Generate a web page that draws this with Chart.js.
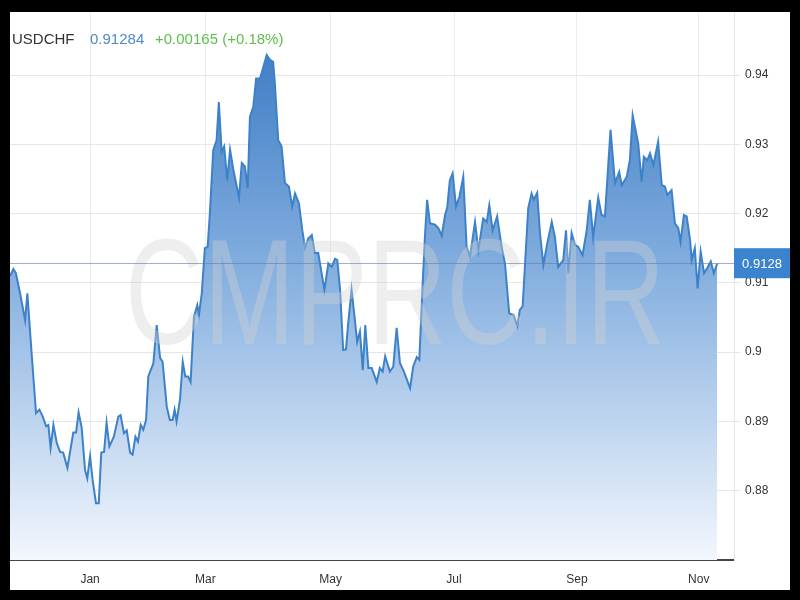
<!DOCTYPE html>
<html><head><meta charset="utf-8">
<script src="https://cdn.jsdelivr.net/npm/chart.js@4.4.1/dist/chart.umd.min.js"></script>
<style>
html,body{margin:0;padding:0;background:#000;width:800px;height:600px;overflow:hidden}
#box{position:absolute;left:10px;top:12px;width:780px;height:578px;background:#fff}
canvas{display:block}
</style></head><body>
<div id="box"><canvas id="c" width="780" height="578"></canvas></div>
<script>
const symbol = 'USDCHF';
const lastPriceText = '0.91284';
const changeText = '+0.00165 (+0.18%)';
const lastValue = 0.91284;
const lastLabel = '0.9128';
const watermark = 'CMPRC.IR';

// trading-day index
const dayIndex = [0,1.2,2.1,3.6,5.4,6.2,7.8,9.3,10.5,11.7,12.9,13.7,14.5,15.5,16.7,17.9,19.0,20.5,22.6,23.6,24.5,25.6,26.8,27.6,28.6,29.5,30.7,31.7,32.6,33.6,34.5,35.5,37.1,38.7,39.5,40.7,41.7,42.9,43.8,44.8,45.7,46.7,47.6,48.6,49.4,51.2,52.4,53.6,54.5,56.0,57.1,58.1,58.8,59.5,60.7,61.7,62.6,63.6,64.5,65.7,66.9,67.5,68.5,69.6,70.6,71.4,72.6,73.8,74.6,75.6,76.5,77.6,78.6,79.8,81.8,82.8,83.9,84.9,85.7,86.9,87.9,89.3,90.5,91.7,92.9,94.0,94.6,95.8,97.0,98.2,99.6,100.8,101.8,103.2,104.4,105.4,106.5,107.8,108.9,110.1,111.3,112.3,113.7,114.9,116.1,116.9,117.9,119.0,120.0,120.8,122.0,123.2,124.0,125.0,126.0,126.9,128.0,129.2,131.0,132.1,133.1,134.0,135.7,136.9,138.1,139.3,140.7,142.9,144.0,145.3,146.2,147.4,148.2,149.0,150.0,151.8,153.0,154.2,155.4,156.2,157.1,158.1,159.3,160.5,161.9,163.1,164.3,166.1,167.3,169.0,170.3,171.2,172.4,174.0,175.6,176.8,178.3,179.8,181.2,182.1,183.1,185.1,186.3,187.1,188.3,189.3,190.5,191.9,193.5,194.6,195.8,197.6,198.6,199.4,200.6,201.8,203.0,204.5,206.0,207.1,208.3,210.1,211.3,212.5,214.5,216.1,217.6,218.5,220.3,221.4,222.4,224.4,225.6,226.4,227.6,228.6,229.8,231.5,232.8,233.9,234.8,236.3,237.5,238.7,239.5,240.7,241.7,242.9,243.5,244.6,245.6,246.7,247.9,249.0,250.3,251.4,252.6];

const closeValues = [0.9110,0.9120,0.9114,0.9085,0.9046,0.9085,0.8994,0.8912,0.8917,0.8907,0.8893,0.8895,0.8862,0.8895,0.8869,0.8856,0.8855,0.8833,0.8884,0.8884,0.8913,0.8891,0.8830,0.8818,0.8850,0.8816,0.8782,0.8782,0.8855,0.8856,0.8898,0.8864,0.8878,0.8907,0.8909,0.8883,0.8887,0.8855,0.8852,0.8878,0.8871,0.8895,0.8888,0.8902,0.8965,0.8984,0.9039,0.8992,0.8986,0.8921,0.8902,0.8902,0.8917,0.8900,0.8931,0.8986,0.8965,0.8965,0.8957,0.9051,0.9068,0.9054,0.9085,0.9150,0.9152,0.9201,0.9292,0.9306,0.9361,0.9289,0.9297,0.9248,0.9292,0.9263,0.9223,0.9273,0.9268,0.9237,0.9340,0.9354,0.9395,0.9395,0.9412,0.9429,0.9422,0.9419,0.9388,0.9306,0.9297,0.9244,0.9239,0.9210,0.9229,0.9215,0.9176,0.9150,0.9164,0.9169,0.9143,0.9143,0.9114,0.9090,0.9128,0.9123,0.9135,0.9133,0.9090,0.9003,0.9004,0.9042,0.9090,0.9046,0.9015,0.9030,0.8974,0.9039,0.8977,0.8977,0.8957,0.8977,0.8972,0.8994,0.8972,0.8979,0.9035,0.8984,0.8972,0.8948,0.8979,0.8993,0.8989,0.9099,0.9167,0.9220,0.9186,0.9184,0.9179,0.9168,0.9198,0.9210,0.9248,0.9258,0.9210,0.9224,0.9253,0.9152,0.9138,0.9188,0.9147,0.9193,0.9188,0.9212,0.9176,0.9196,0.9152,0.9128,0.9056,0.9054,0.9038,0.9061,0.9066,0.9208,0.9229,0.9220,0.9230,0.9172,0.9126,0.9157,0.9188,0.9167,0.9123,0.9133,0.9176,0.9114,0.9172,0.9155,0.9152,0.9140,0.9176,0.9220,0.9166,0.9223,0.9198,0.9196,0.9321,0.9244,0.9260,0.9241,0.9253,0.9277,0.9342,0.9301,0.9246,0.9282,0.9277,0.9287,0.9270,0.9304,0.9241,0.9239,0.9227,0.9234,0.9186,0.9179,0.9159,0.9198,0.9196,0.9162,0.9133,0.9150,0.9092,0.9145,0.9114,0.9121,0.9131,0.9114,0.9128];

const monthTickIndex = [28.6, 69.8, 114.5, 158.6, 202.5, 246];
const monthLabels = ['Jan', 'Mar', 'May', 'Jul', 'Sep', 'Nov'];
const priceTicks = [0.88, 0.89, 0.9, 0.91, 0.92, 0.93, 0.94];
const xRange = [0, 258.6];
const yRange = [0.87, 0.9491];

const FONT = '"Liberation Sans", Arial, sans-serif';

const decor = {
  id: 'decor',
  afterDatasetsDraw(chart) {
    const ctx = chart.ctx, ca = chart.chartArea;
    const ys = chart.scales.y;
    // watermark
    ctx.save();
    ctx.beginPath(); ctx.rect(ca.left, ca.top, ca.right - ca.left, ca.bottom - ca.top); ctx.clip();
    ctx.font = '150px ' + FONT;
    const w = ctx.measureText(watermark).width;
    const target = 540;
    ctx.translate(115, 332);
    ctx.scale(target / w, 1);
    ctx.fillStyle = 'rgba(210,210,210,0.38)';
    ctx.textBaseline = 'alphabetic';
    ctx.fillText(watermark, 0, 0);
    ctx.restore();
    // current price line
    const py = Math.round(ys.getPixelForValue(lastValue)) + 0.5;
    ctx.save();
    ctx.strokeStyle = 'rgba(95,125,165,0.6)';
    ctx.lineWidth = 1;
    ctx.beginPath(); ctx.moveTo(ca.left, py); ctx.lineTo(ca.right, py); ctx.stroke();
    ctx.restore();
  },
  afterDraw(chart) {
    const ctx = chart.ctx, ca = chart.chartArea;
    const ys = chart.scales.y;
    const py = ys.getPixelForValue(lastValue);
    ctx.save();
    ctx.fillStyle = '#3a83cf';
    ctx.fillRect(ca.right, py - 15, chart.width - ca.right, 30);
    ctx.fillStyle = '#ffffff';
    ctx.font = '13px ' + FONT;
    ctx.textAlign = 'center';
    ctx.textBaseline = 'middle';
    ctx.fillText(lastLabel, (ca.right + chart.width) / 2, py + 1);
    // title
    ctx.textAlign = 'left';
    ctx.font = '15px ' + FONT;
    ctx.fillStyle = '#333333';
    ctx.fillText(symbol, 2, 28);
    ctx.fillStyle = '#4f89c9';
    ctx.fillText(lastPriceText, 80, 28);
    ctx.fillStyle = '#5cbf4c';
    ctx.fillText(changeText, 145, 28);
    ctx.restore();
  }
};

new Chart(document.getElementById('c'), {
  type: 'line',
  data: {
    datasets: [{
      data: dayIndex.map((x, i) => ({ x: x, y: closeValues[i] })),
      borderColor: '#3d82c8',
      borderWidth: 2,
      pointRadius: 0,
      tension: 0,
      fill: 'start',
      backgroundColor: (c) => {
        const ca = c.chart.chartArea;
        if (!ca) return 'rgba(80,140,205,0.5)';
        const g = c.chart.ctx.createLinearGradient(0, ca.top, 0, ca.bottom);
        g.addColorStop(0, 'rgb(52,118,192)');
        g.addColorStop(0.45, 'rgb(128,172,222)');
        g.addColorStop(1, 'rgb(243,247,253)');
        return g;
      }
    }]
  },
  options: {
    responsive: false,
    animation: false,
    layout: { padding: 0 },
    plugins: { legend: { display: false }, tooltip: { enabled: false } },
    scales: {
      x: {
        type: 'linear', position: 'bottom', min: xRange[0], max: xRange[1],
        afterBuildTicks: (s) => { s.ticks = monthTickIndex.map(v => ({ value: v })); },
        afterFit: (s) => { s.height = 30; s.paddingLeft = 0; s.paddingRight = 0; },
        ticks: {
          autoSkip: false, maxRotation: 0, padding: 12, color: '#333',
          font: { size: 12, family: FONT },
          callback: (v, i) => monthLabels[i]
        },
        grid: { color: '#ececec', drawTicks: false },
        border: { color: '#444', width: 2 }
      },
      y: {
        type: 'linear', position: 'right', min: yRange[0], max: yRange[1],
        afterBuildTicks: (s) => { s.ticks = priceTicks.map(v => ({ value: v })); },
        afterFit: (s) => { s.width = 56; s.paddingTop = 0; s.paddingBottom = 0; },
        ticks: {
          padding: 5, color: '#333', font: { size: 12, family: FONT },
          callback: (v) => String(Number(v.toFixed(2)))
        },
        grid: { color: '#e6e6e6', tickLength: 6 },
        border: { color: '#e6e6e6' }
      }
    }
  },
  plugins: [decor]
});
</script>
</body></html>
